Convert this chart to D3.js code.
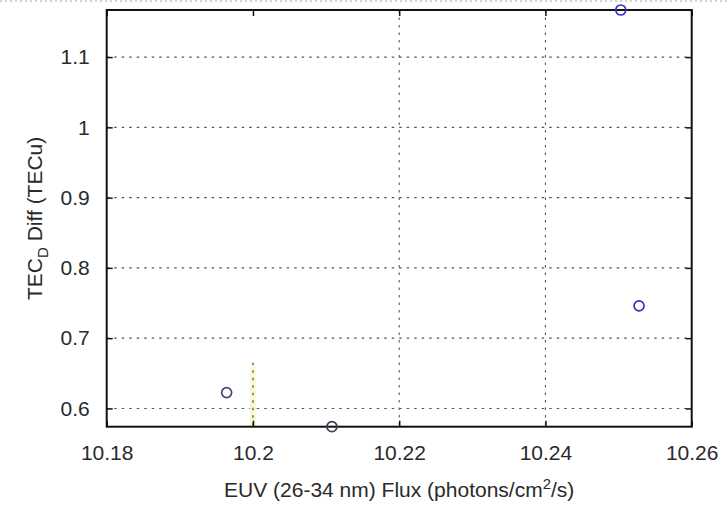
<!DOCTYPE html>
<html>
<head>
<meta charset="utf-8">
<script src="https://cdn.jsdelivr.net/npm/d3@7"></script>
<style>
  html, body { margin: 0; padding: 0; background: #fff; }
  svg { display: block; }
  text { font-family: "Liberation Sans", Arial, Helvetica, sans-serif; fill: #2a2a2a; }
</style>
</head>
<body>
<svg id="chart" width="728" height="507"></svg>
<script>
// EUV flux vs. TEC_D difference samples
const euvFlux = [10.2503, 10.2528, 10.1964, 10.2108];
const tecDiff = [1.167, 0.746, 0.6225, 0.574];
const pointColors = ["#3434c0", "#3434c0", "#45457a", "#3a3a4a"];

const xDomain = [10.18, 10.26];
const yDomain = [0.574, 1.167];
const xTicks = [10.18, 10.2, 10.22, 10.24, 10.26];
const yTicks = [0.6, 0.7, 0.8, 0.9, 1, 1.1];

const svg = d3.select("#chart");
const plotL = 106.7, plotR = 691.7, plotT = 10, plotB = 426.7;

const x = d3.scaleLinear().domain(xDomain).range([plotL, plotR]);
const y = d3.scaleLinear().domain(yDomain).range([plotB, plotT]);
const fmt = d => String(+d.toFixed(2));

// faint dotted rule along the top edge
svg.append("line")
  .attr("x1", 0).attr("x2", 728).attr("y1", 1).attr("y2", 1)
  .attr("stroke", "#c4c4c4").attr("stroke-width", 1.5)
  .attr("stroke-dasharray", "2,3");

// white plot area
svg.append("rect")
  .attr("x", plotL).attr("y", plotT)
  .attr("width", plotR - plotL).attr("height", plotB - plotT)
  .attr("fill", "#fff");

const grid = svg.append("g")
  .attr("stroke", "#555").attr("stroke-width", 1.1)
  .attr("stroke-dasharray", "2.5,5");

// horizontal grid
grid.selectAll("line.h").data(yTicks).join("line")
  .attr("class", "h")
  .attr("x1", plotL).attr("x2", plotR)
  .attr("y1", d => y(d)).attr("y2", d => y(d));

// vertical grid (interior ticks)
const innerX = xTicks.filter(d => d > xDomain[0] && d < xDomain[1]);
grid.selectAll("line.v").data(innerX.filter(d => d !== 10.2)).join("line")
  .attr("class", "v")
  .attr("x1", d => x(d)).attr("x2", d => x(d))
  .attr("y1", plotT).attr("y2", plotB);

// short tinted segment of the 10.2 grid line
svg.append("rect")
  .attr("x", x(10.2) - 3).attr("y", y(0.66))
  .attr("width", 6).attr("height", plotB - y(0.66))
  .attr("fill", "#fafad2");
svg.append("line")
  .attr("x1", x(10.2)).attr("x2", x(10.2))
  .attr("y1", y(0.665)).attr("y2", plotB)
  .attr("stroke", "#555").attr("stroke-width", 1.3)
  .attr("stroke-dasharray", "2.5,5");

// axes with inward ticks on all four sides
const tickLen = 6;
const xAxisB = d3.axisBottom(x).tickValues(xTicks).tickFormat(fmt).tickSizeInner(-tickLen).tickSizeOuter(0).tickPadding(18);
const xAxisT = d3.axisTop(x).tickValues(xTicks).tickFormat("").tickSizeInner(-tickLen).tickSizeOuter(0);
const yAxisL = d3.axisLeft(y).tickValues(yTicks).tickFormat(fmt).tickSizeInner(-tickLen).tickSizeOuter(0).tickPadding(17);
const yAxisR = d3.axisRight(y).tickValues(yTicks).tickFormat("").tickSizeInner(-tickLen).tickSizeOuter(0);

function styleAxis(g) {
  g.select(".domain").remove();
  g.selectAll(".tick line").attr("stroke", "#111").attr("stroke-width", 1.5);
  g.selectAll(".tick text").attr("font-size", 21).attr("fill", "#2a2a2a")
    .attr("font-family", "Liberation Sans, Arial, sans-serif");
}

svg.append("g").attr("transform", `translate(0,${plotB})`).call(xAxisB).call(styleAxis);
svg.append("g").attr("transform", `translate(0,${plotT})`).call(xAxisT).call(styleAxis);
svg.append("g").attr("transform", `translate(${plotL},0)`).call(yAxisL).call(styleAxis);
svg.append("g").attr("transform", `translate(${plotR},0)`).call(yAxisR).call(styleAxis);

// box
svg.append("rect")
  .attr("x", plotL).attr("y", plotT)
  .attr("width", plotR - plotL).attr("height", plotB - plotT)
  .attr("fill", "none").attr("stroke", "#111").attr("stroke-width", 2);

// data markers
svg.append("g").selectAll("circle")
  .data(euvFlux.map((v, i) => ({ x: v, y: tecDiff[i], c: pointColors[i] })))
  .join("circle")
  .attr("cx", d => x(d.x)).attr("cy", d => y(d.y))
  .attr("r", 5)
  .attr("fill", "none")
  .attr("stroke", d => d.c)
  .attr("stroke-width", 1.7);

// x-axis title
const xt = svg.append("text")
  .attr("x", (plotL + plotR) / 2).attr("y", 497)
  .attr("text-anchor", "middle").attr("font-size", 21);
xt.append("tspan").text("EUV (26-34 nm) Flux (photons/cm");
xt.append("tspan").attr("dy", -8).attr("font-size", 15).text("2");
xt.append("tspan").attr("dy", 8).text("/s)");

// y-axis title
const yt = svg.append("text")
  .attr("transform", `translate(42,${(plotT + plotB) / 2}) rotate(-90)`)
  .attr("text-anchor", "middle").attr("font-size", 21);
yt.append("tspan").text("TEC");
yt.append("tspan").attr("dy", 6).attr("font-size", 15).text("D");
yt.append("tspan").attr("dy", -6).text(" Diff (TECu)");
</script>
</body>
</html>
